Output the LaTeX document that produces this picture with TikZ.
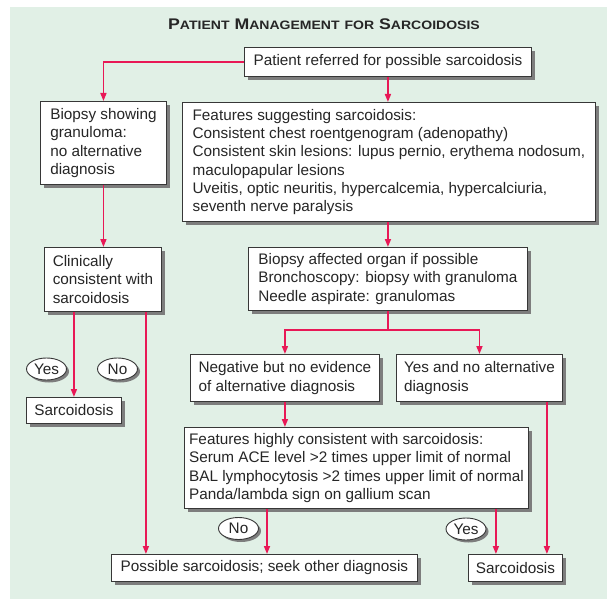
\documentclass[tikz,border=0pt]{standalone}
\usepackage{fontspec}
\setmainfont{Liberation Sans}
\usetikzlibrary{arrows.meta,shapes.geometric,shadows}
\definecolor{panelgreen}{RGB}{225,240,230}
\definecolor{flowred}{RGB}{232,24,86}
\definecolor{boxline}{RGB}{55,55,55}
\definecolor{shadowgray}{RGB}{125,125,125}
\newcommand{\smcap}[1]{{\fontsize{12.2}{14}\selectfont #1}}

\begin{document}
\begin{tikzpicture}[x=1pt,y=-1pt,
    box/.style={draw=boxline, line width=0.9pt, fill=white, align=left, inner sep=0pt,
      font=\fontsize{15.3}{18.3}\selectfont, text=black!85, anchor=north west,
      drop shadow={shadow xshift=3.5pt, shadow yshift=-3.5pt, fill=shadowgray, opacity=1}},
    answer/.style={ellipse, draw=boxline, line width=0.9pt, fill=white, inner sep=0pt,
      minimum width=40pt, minimum height=22pt, font=\fontsize{15.3}{18.3}\selectfont, text=black!85,
      drop shadow={shadow xshift=2.5pt, shadow yshift=-2.5pt, fill=shadowgray, opacity=1}},
    flow/.style={draw=flowred, line width=1.6pt, -{Triangle[length=8pt,width=6pt]}}]
            \useasboundingbox (0,0) rectangle (607,599);
            \fill[panelgreen] (10,7) rectangle (607,599);
            \node[font=\fontsize{15.4}{18}\selectfont\bfseries, text=black!85] (title) at (324,24)
                {\scalebox{1.15}[1]{P\smcap{ATIENT} M\smcap{ANAGEMENT} \smcap{FOR} S\smcap{ARCOIDOSIS}}};
            % boxes
            \node[box, minimum width=287pt, minimum height=29pt] (start) at (244,47) {Patient referred for possible sarcoidosis};
            \node[box, minimum width=126pt, minimum height=83pt] (biopsy) at (40,101) {Biopsy showing\\granuloma:\\no alternative\\diagnosis};
            \node[box, minimum width=413pt, minimum height=119pt] (features) at (182,102) {Features suggesting sarcoidosis:\\Consistent chest roentgenogram (adenopathy)\\Consistent skin lesions: lupus pernio, erythema nodosum,\\maculopapular lesions\\Uveitis, optic neuritis, hypercalcemia, hypercalciuria,\\seventh nerve paralysis};
            \node[box, minimum width=117pt, minimum height=64pt] (clinical) at (44,247) {Clinically\\consistent with\\sarcoidosis};
            \node[box, minimum width=279pt, minimum height=63pt] (organ) at (248,247) {Biopsy affected organ if possible\\Bronchoscopy: biopsy with granuloma\\Needle aspirate: granulomas};
            \node[box, minimum width=189pt, minimum height=47pt] (negative) at (190,354) {Negative but no evidence\\of alternative diagnosis};
            \node[box, minimum width=166pt, minimum height=47pt] (yesalt) at (396,354) {Yes and no alternative\\diagnosis};
            \node[box, minimum width=344pt, minimum height=81pt] (highly) at (184,427) {Features highly consistent with sarcoidosis:\\Serum ACE level >2 times upper limit of normal\\BAL lymphocytosis >2 times upper limit of normal\\Panda/lambda sign on gallium scan};
            \node[box, minimum width=95pt, minimum height=26pt] (sarcleft) at (26,397) {Sarcoidosis};
            \node[box, minimum width=306pt, minimum height=27pt] (possible) at (111,554) {Possible sarcoidosis; seek other diagnosis};
            \node[box, minimum width=94pt, minimum height=27pt] (sarcright) at (468,554) {Sarcoidosis};
            % yes/no labels
            \node[answer] (yesleft) at (46.5,369) {Yes};
            \node[answer] (noleft) at (117.5,369) {No};
            \node[answer] (nomid) at (238.5,528.5) {No};
            \node[answer] (yesright) at (466,529) {Yes};
            % connectors
            \draw[flow] (start.west) -| (biopsy.north);
            \draw[flow] (start.south) -- (start.south |- features.north);
            \draw[flow] (biopsy.south) -- (biopsy.south |- clinical.north);
            \draw[flow] (organ.north |- features.south) -- (organ.north);
            \path (organ.south) ++(0,19) coordinate (fork);
            \draw[flow] (organ.south) -- (fork) -| (negative.north);
            \draw[flow] (fork) -| (yesalt.north);
            \draw[flow] (negative.south) -- (negative.south |- highly.north);
            \draw[flow] (sarcleft.north |- clinical.south) -- (sarcleft.north);
            \coordinate (clinout) at ([xshift=-16pt]clinical.south east);
            \draw[flow] (clinout) -- (clinout |- possible.north);
            \coordinate (highno) at ([xshift=83pt]highly.south west);
            \draw[flow] (highno) -- (highno |- possible.north);
            \coordinate (highyes) at ([xshift=-33pt]highly.south east);
            \draw[flow] (highyes) -- (highyes |- sarcright.north);
            \coordinate (altout) at ([xshift=-16pt]yesalt.south east);
            \draw[flow] (altout) -- (altout |- sarcright.north);
        \end{tikzpicture}
\end{document}
